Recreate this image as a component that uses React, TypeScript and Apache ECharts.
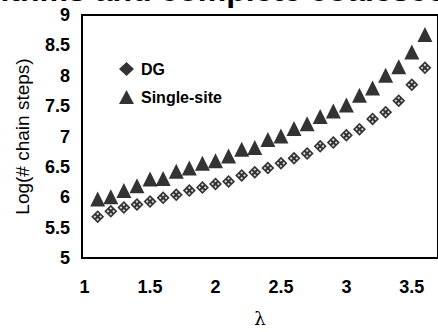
import React, { useEffect, useRef } from "react";
import * as echarts from "echarts";

const lambdas = [1.1, 1.2, 1.3, 1.4, 1.5, 1.6, 1.7, 1.8, 1.9, 2.0, 2.1, 2.2, 2.3, 2.4, 2.5, 2.6, 2.7, 2.8, 2.9, 3.0, 3.1, 3.2, 3.3, 3.4, 3.5, 3.6];
const dgValues = [5.68, 5.77, 5.83, 5.88, 5.93, 5.99, 6.04, 6.11, 6.16, 6.22, 6.26, 6.36, 6.41, 6.48, 6.56, 6.64, 6.72, 6.84, 6.9, 7.02, 7.12, 7.29, 7.4, 7.59, 7.85, 8.13];
const singleSiteValues = [5.97, 6.01, 6.11, 6.19, 6.3, 6.31, 6.43, 6.48, 6.56, 6.6, 6.68, 6.79, 6.82, 6.95, 7.01, 7.13, 7.21, 7.33, 7.42, 7.52, 7.68, 7.8, 8.01, 8.15, 8.39, 8.68];
const xTickLabels = [1, 1.5, 2, 2.5, 3, 3.5];
const seriesNames = ["DG", "Single-site"];
const yAxisTitle = "Log(# chain steps)";
const xAxisTitle = "λ";
const cutTitle = "rithms and complete coalescence";

const FONT = "'Liberation Sans', Arial, sans-serif";

export default function App() {
  const ref = useRef<HTMLDivElement>(null);
  useEffect(() => {
    if (!ref.current) return;
    const chart = echarts.init(ref.current, null, { renderer: "svg" });
    const dgData = lambdas.map((x, i) => [x, dgValues[i]]);
    const ssData = lambdas.map((x, i) => [x, singleSiteValues[i]]);
    chart.setOption({
      animation: false,
      backgroundColor: "#fff",
      grid: {
        left: 82,
        top: 15,
        bottom: 67,
        right: -8,
        show: true,
        borderColor: "#000",
        borderWidth: 2,
        backgroundColor: "transparent",
      },
      legend: {
        orient: "vertical",
        left: 114,
        top: 56,
        itemWidth: 15,
        itemHeight: 14,
        itemGap: 12,
        textStyle: { fontFamily: FONT, fontWeight: "bold", fontSize: 16, color: "#000", padding: [0, 0, 0, 2] },
        data: [
          { name: seriesNames[0], icon: "diamond" },
          { name: seriesNames[1], icon: "triangle" },
        ],
      },
      xAxis: {
        type: "value",
        min: 0.98,
        max: 3.7,
        axisLine: { show: true, lineStyle: { color: "#000", width: 2 } },
        axisTick: { show: false },
        splitLine: { show: false },
        axisLabel: {
          customValues: xTickLabels,
          fontFamily: FONT,
          fontWeight: "bold",
          fontSize: 18,
          color: "#000",
          margin: 20,
          formatter: (v: number) => String(v),
        },
        name: xAxisTitle,
        nameLocation: "middle",
        nameGap: 51,
        nameTextStyle: { fontFamily: "'DejaVu Serif', 'Liberation Serif', serif", fontSize: 18, color: "#000" },
      },
      yAxis: {
        type: "value",
        min: 5,
        max: 9,
        interval: 0.5,
        axisLine: { show: true, lineStyle: { color: "#000", width: 2 } },
        axisTick: { show: false },
        splitLine: { show: false },
        axisLabel: {
          fontFamily: FONT,
          fontWeight: "bold",
          fontSize: 18,
          color: "#000",
          margin: 12,
        },
        name: yAxisTitle,
        nameLocation: "middle",
        nameGap: 50,
        nameTextStyle: { fontFamily: FONT, fontSize: 19, color: "#000" },
      },
      graphic: [
        {
          type: "text",
          left: -12,
          top: -26,
          style: { text: cutTitle, font: `bold 32px ${FONT}`, fill: "#000" },
        },
      ],
      series: [
        {
          name: seriesNames[1],
          type: "scatter",
          data: ssData,
          symbol: "triangle",
          symbolSize: [15, 15],
          itemStyle: { color: "#000" },
        },
        {
          name: seriesNames[0],
          type: "scatter",
          data: dgData,
          symbol: "diamond",
          symbolSize: 13,
          itemStyle: { color: "#000" },
        },
        {
          name: "DG-dots",
          type: "scatter",
          data: dgData,
          symbol: "path://M0,0h1v1h-1z M2,0h1v1h-1z M0,2h1v1h-1z M2,2h1v1h-1z",
          symbolSize: 6,
          symbolRotate: 45,
          itemStyle: { color: "#fff" },
          silent: true,
        },
      ],
    });
    return () => chart.dispose();
  }, []);
  return <div ref={ref} style={{ position: "fixed", left: 0, top: 0, width: 438, height: 332 }} />;
}
